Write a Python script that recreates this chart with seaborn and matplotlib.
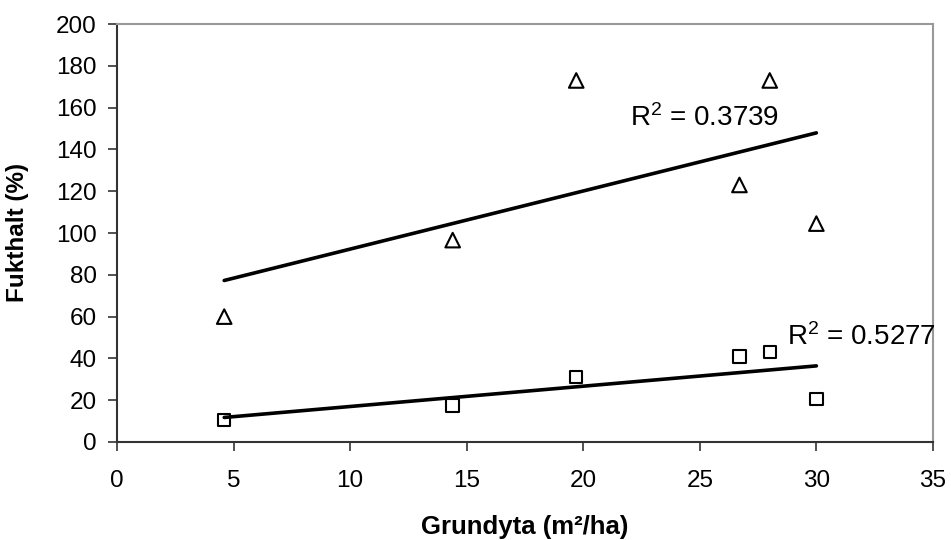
import matplotlib
matplotlib.use("Agg")
import matplotlib.pyplot as plt
import seaborn as sns
import pandas as pd

# Basal area (m²/ha) and moisture content (%) of the two sample series
grundyta = [4.6, 14.4, 19.7, 26.7, 28.0, 30.0]
fukthalt_triangel = [60.0, 96.6, 173.0, 123.0, 173.0, 104.5]
fukthalt_kvadrat = [10.5, 17.5, 31.0, 41.0, 43.0, 20.5]

r2_triangel = "R$^2$ = 0.3739"
r2_kvadrat = "R$^2$ = 0.5277"

x_ticks = [0, 5, 10, 15, 20, 25, 30, 35]
y_ticks = [0, 20, 40, 60, 80, 100, 120, 140, 160, 180, 200]

sns.set_theme(style="white")
plt.rcParams["font.family"] = ["Liberation Sans", "DejaVu Sans"]
plt.rcParams["mathtext.fontset"] = "custom"
plt.rcParams["mathtext.rm"] = "Liberation Sans"
plt.rcParams["mathtext.it"] = "Liberation Sans"
plt.rcParams["text.color"] = "black"
plt.rcParams["axes.labelcolor"] = "black"

df_t = pd.DataFrame({"x": grundyta, "y": fukthalt_triangel})
df_k = pd.DataFrame({"x": grundyta, "y": fukthalt_kvadrat})

fig = plt.figure(figsize=(9.51, 5.40), dpi=100)
ax = fig.add_axes([0.123, 0.1815, 0.858, 0.774])

# Linear trend lines across the observed range
sns.regplot(data=df_t, x="x", y="y", ax=ax, scatter=False, ci=None, truncate=True,
            line_kws=dict(color="black", lw=2.6, solid_capstyle="round"))
sns.regplot(data=df_k, x="x", y="y", ax=ax, scatter=False, ci=None, truncate=True,
            line_kws=dict(color="black", lw=2.6, solid_capstyle="round"))

# Open markers for the observations
sns.scatterplot(data=df_t, x="x", y="y", ax=ax, marker="^", s=110,
                facecolor="none", edgecolor="black", linewidth=1.5, zorder=3)
sns.scatterplot(data=df_k, x="x", y="y", ax=ax, marker="s", s=80,
                facecolor="none", edgecolor="black", linewidth=1.5, zorder=3)

ax.text(22.0, 155, r2_triangel, fontsize=20, va="center", ha="left", color="black")
ax.text(28.74, 50.2, r2_kvadrat, fontsize=20, va="center", ha="left", color="black")

ax.set_xlim(0, 35)
ax.set_ylim(0, 200)
ax.set_xticks(x_ticks)
ax.set_yticks(y_ticks)
ax.tick_params(axis="both", direction="out", length=6.5, width=1.2, color="#333333",
               labelsize=17.5, labelcolor="black", bottom=True, left=True)
ax.tick_params(axis="y", pad=8)
ax.tick_params(axis="x", pad=14)

for side in ["left", "bottom"]:
    ax.spines[side].set_color("#333333")
    ax.spines[side].set_linewidth(1.5)
for side in ["top", "right"]:
    ax.spines[side].set_color("#999999")
    ax.spines[side].set_linewidth(1.5)

ax.set_xlabel("Grundyta (m²/ha)", fontsize=18.5, fontweight="bold")
ax.set_ylabel("Fukthalt (%)", fontsize=17.5, fontweight="bold")
ax.xaxis.set_label_coords((525 - 117) / 816, -(527 - 442) / 418)
ax.yaxis.set_label_coords(-(117 - 18) / 816, (442 - 232) / 418)
ax.xaxis.label.set_va("center")
ax.yaxis.label.set_va("center")

fig.savefig("out.png", dpi=100)
